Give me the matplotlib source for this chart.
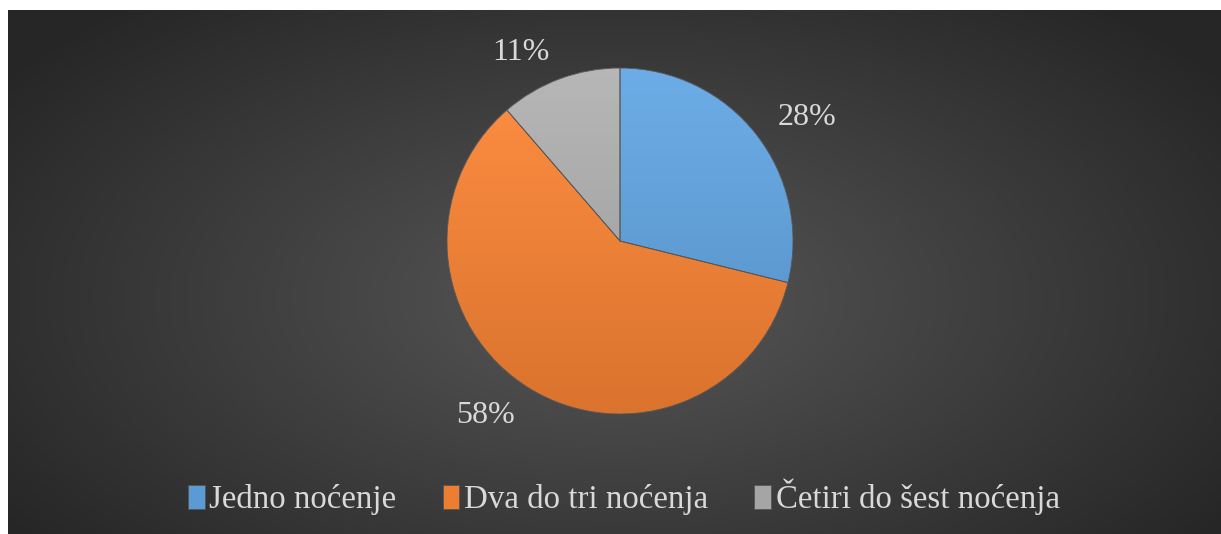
import numpy as np
import matplotlib
matplotlib.use("Agg")
import matplotlib.pyplot as plt
from matplotlib.patches import Wedge
from matplotlib.colors import LinearSegmentedColormap, to_rgb

# podaci
categories = ["Jedno noćenje", "Dva do tri noćenja", "Četiri do šest noćenja"]
values = [28, 58, 11]
colors = ["#5B9BD5", "#ED7D31", "#A5A5A5"]

plt.rcParams['font.family'] = ['Liberation Serif', 'DejaVu Serif']
text_color = "#D9D9D9"

W, H = 1221, 534
fig = plt.figure(figsize=(W / 100, H / 100), dpi=100, facecolor="white")

# tamna pozadina s radijalnim prelazom
bg = fig.add_axes([8 / W, 0, 1 - 8 / W, 1 - 10 / H])
yy, xx = np.mgrid[0:1:300j, 0:1:600j]
dist = np.sqrt(((xx - 0.5) / 0.62) ** 2 + ((yy - 0.55) / 0.75) ** 2)
dist = np.clip(dist, 0, 1)
bg_cmap = LinearSegmentedColormap.from_list("bg", ["#575757", "#262626"])
bg.imshow(dist, cmap=bg_cmap, aspect="auto", extent=[0, 1, 0, 1], vmin=0, vmax=1)
bg.set_axis_off()

# pita
cx, cy, r = 620, 241, 173
ax = fig.add_axes([(cx - r) / W, (H - cy - r) / H, 2 * r / W, 2 * r / H])
ax.set_facecolor("none")
total = sum(values)
wedges, texts, autotexts = ax.pie(
    values, colors=colors, startangle=90, counterclock=False, radius=1,
    autopct=lambda p: f"{p * total / 100:.0f}%", pctdistance=1.16,
    wedgeprops=dict(edgecolor="#555555", linewidth=0.6),
    textprops=dict(color=text_color, fontsize=23),
)
# oznake izvan ruba kao u Excelu
for t in autotexts:
    x, y = t.get_position()
    t.set_ha("left" if x > 0 else "right")
    t.set_va("center" if y > 0 else "center_baseline")

# vertikalni prelaz unutar isječaka (svjetlije gore)
grad = np.linspace(0, 1, 256).reshape(-1, 1)
for w, c in zip(wedges, colors):
    base = np.array(to_rgb(c))
    light = np.clip(base + 0.07, 0, 1)
    dark = base * 0.92
    cm = LinearSegmentedColormap.from_list("g", [light, dark])
    im = ax.imshow(grad, cmap=cm, extent=[-1, 1, -1, 1], aspect="auto", zorder=w.get_zorder() + 0.1)
    im.set_clip_path(w)
    ax.add_patch(Wedge(w.center, w.r, w.theta1, w.theta2, facecolor="none",
                       edgecolor="#555555", linewidth=0.6, zorder=w.get_zorder() + 0.2))
ax.set_xlim(-1, 1)
ax.set_ylim(-1, 1)
ax.set_aspect("equal")
ax.set_axis_off()

fig.legend(wedges, categories, loc="center", bbox_to_anchor=(624 / W, (H - 497) / H),
           ncol=3, frameon=False, fontsize=23.7, labelcolor=text_color,
           handlelength=0.5, handleheight=0.75, handletextpad=0.15, columnspacing=1.4)

fig.savefig("out.png", dpi=100, facecolor="white")
